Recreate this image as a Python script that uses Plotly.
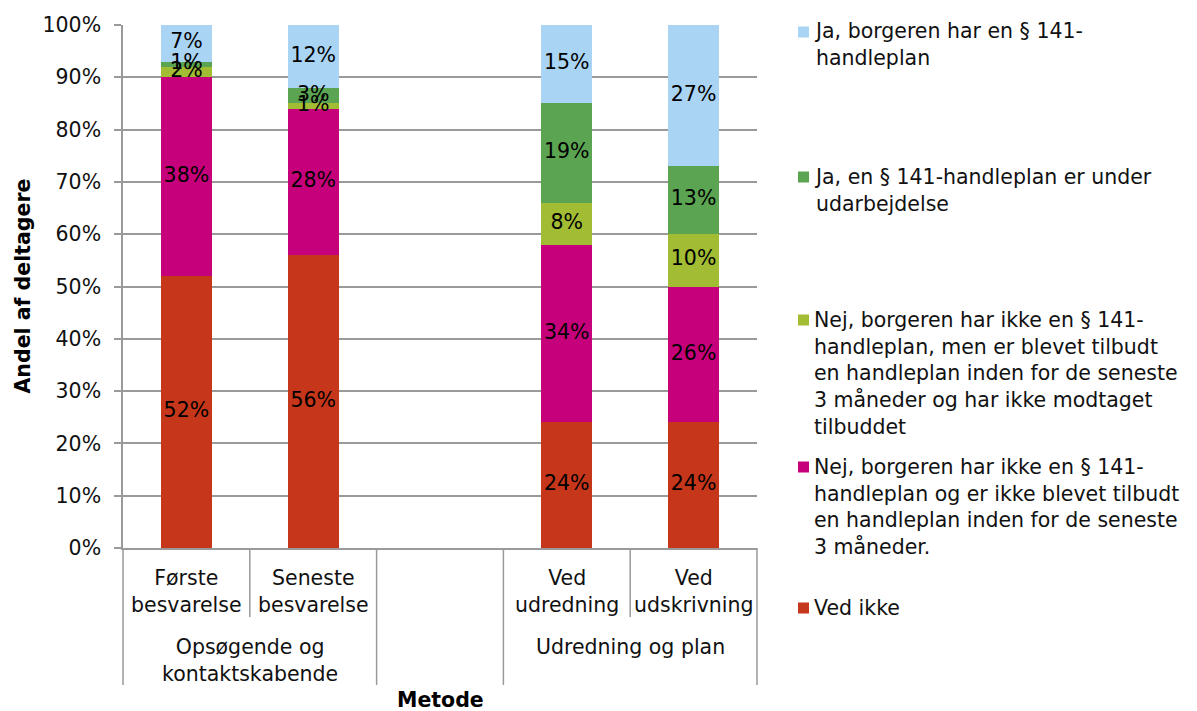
import plotly.graph_objects as go

# Category slots along the x axis (the middle slot is left empty as a spacer)
categories = ["Første<br>besvarelse", "Seneste<br>besvarelse", "", "Ved<br>udredning", "Ved<br>udskrivning"]
groups = ["Opsøgende og<br>kontaktskabende", "", "Udredning og plan"]
group_slots = [[0, 1], [2], [3, 4]]

series_names = [
    "Ved ikke",
    "Nej, borgeren har ikke en § 141-<br>handleplan og er ikke blevet tilbudt<br>en handleplan inden for de seneste<br>3 måneder.",
    "Nej, borgeren har ikke en § 141-<br>handleplan, men er blevet tilbudt<br>en handleplan inden for de seneste<br>3 måneder og har ikke modtaget<br>tilbuddet",
    "Ja, en § 141-handleplan er under<br>udarbejdelse",
    "Ja, borgeren har en § 141-<br>handleplan",
]
series_colors = ["#C5361A", "#C6007A", "#A2BD34", "#5BA552", "#A9D4F4"]

# Percentages per slot, bottom to top (None = empty slot)
ved_ikke = [52, 56, None, 24, 24]
nej_ikke_tilbudt = [38, 28, None, 34, 26]
nej_tilbudt = [2, 1, None, 8, 10]
ja_under = [1, 3, None, 19, 13]
ja_har = [7, 12, None, 15, 27]
series_values = [ved_ikke, nej_ikke_tilbudt, nej_tilbudt, ja_under, ja_har]

y_ticks = list(range(0, 101, 10))

FONT = "DejaVu Sans"
FS = 20.5
GRID = "#9a9a9a"

W, H = 1197, 711
L, R, T, B = 123, 757, 25, 548   # plot area in pixels


def px_to_paper_x(px):
    return (px - L) / (R - L)


def px_to_paper_y(py):
    return (B - py) / (B - T)


x_pos = list(range(len(categories)))

fig = go.Figure()
for name, color, vals in zip(series_names, series_colors, series_values):
    xs = [x for x, v in zip(x_pos, vals) if v is not None]
    ys = [v for v in vals if v is not None]
    fig.add_trace(go.Bar(x=xs, y=ys, name=name, marker=dict(color=color, line=dict(width=0)),
                         width=0.4, showlegend=False, hoverinfo="skip"))

# Value labels centred on each segment
lab_x, lab_y, lab_t = [], [], []
for i in x_pos:
    base = 0
    for vals in series_values:
        v = vals[i]
        if v is None:
            continue
        lab_x.append(i)
        lab_y.append(base + v / 2)
        lab_t.append(f"{v}%")
        base += v
fig.add_trace(go.Scatter(x=lab_x, y=lab_y, text=lab_t, mode="text",
                         textfont=dict(family=FONT, size=FS, color="#000"),
                         showlegend=False, hoverinfo="skip"))

shapes = []
annotations = []

# Category axis dividers: short between categories in a group, long between groups
n = len(categories)
long_bounds = {0, n}
for slots in group_slots:
    long_bounds.add(slots[0])
    long_bounds.add(slots[-1] + 1)
for k in range(n + 1):
    y_end = px_to_paper_y(685) if k in long_bounds else px_to_paper_y(617)
    shapes.append(dict(type="line", xref="paper", yref="paper", x0=k / n, x1=k / n,
                       y0=0, y1=y_end, line=dict(color=GRID, width=1.5)))

for i, c in enumerate(categories):
    if c:
        annotations.append(dict(x=i, y=px_to_paper_y(564), xref="x", yref="paper", text=c,
                                showarrow=False, xanchor="center", yanchor="top",
                                font=dict(family=FONT, size=FS, color="#111")))
for g, slots in zip(groups, group_slots):
    if g:
        annotations.append(dict(x=sum(slots) / len(slots), y=px_to_paper_y(633), xref="x", yref="paper",
                                text=g, showarrow=False, xanchor="center", yanchor="top",
                                font=dict(family=FONT, size=FS, color="#111")))

# Axis titles
annotations.append(dict(x=0.5, y=px_to_paper_y(700), xref="paper", yref="paper", text="<b>Metode</b>",
                        showarrow=False, xanchor="center", yanchor="middle",
                        font=dict(family=FONT, size=FS, color="#000")))
annotations.append(dict(x=px_to_paper_x(22), y=0.5, xref="paper", yref="paper",
                        text="<b>Andel af deltagere</b>", textangle=-90,
                        showarrow=False, xanchor="center", yanchor="middle",
                        font=dict(family=FONT, size=FS, color="#000")))

# Legend drawn on the right, top entry first
legend_first_line_y = [32, 177, 320, 467, 608]
legend_order = [4, 3, 2, 1, 0]
for idx, ly in zip(legend_order, legend_first_line_y):
    shapes.append(dict(type="rect", xref="paper", yref="paper",
                       x0=px_to_paper_x(798), x1=px_to_paper_x(809),
                       y0=px_to_paper_y(ly - 5.5), y1=px_to_paper_y(ly + 5.5),
                       fillcolor=series_colors[idx], line=dict(width=0)))
    annotations.append(dict(x=px_to_paper_x(812), y=px_to_paper_y(ly - 14.5), xref="paper", yref="paper",
                            text=series_names[idx], align="left", showarrow=False,
                            xanchor="left", yanchor="top",
                            font=dict(family=FONT, size=FS, color="#111")))

fig.update_layout(
    width=W, height=H,
    margin=dict(l=L, r=W - R, t=T, b=H - B),
    barmode="stack",
    plot_bgcolor="white", paper_bgcolor="white",
    shapes=shapes, annotations=annotations,
    showlegend=False,
    xaxis=dict(range=[-0.5, n - 0.5], showticklabels=False, ticks="", showgrid=False,
               zeroline=False, showline=True, linecolor=GRID, linewidth=1.5, fixedrange=True),
    yaxis=dict(range=[0, 100], tickvals=y_ticks, ticktext=[f"{t}%" for t in y_ticks],
               showgrid=True, gridcolor=GRID, gridwidth=1.5, zeroline=False,
               showline=True, linecolor=GRID, linewidth=1.5,
               ticks="outside", ticklen=7, tickcolor=GRID, tickwidth=1.5,
               ticklabelstandoff=9,
               tickfont=dict(family=FONT, size=FS, color="#111"), fixedrange=True),
)

fig.write_html("out.html", config={"displayModeBar": False})
